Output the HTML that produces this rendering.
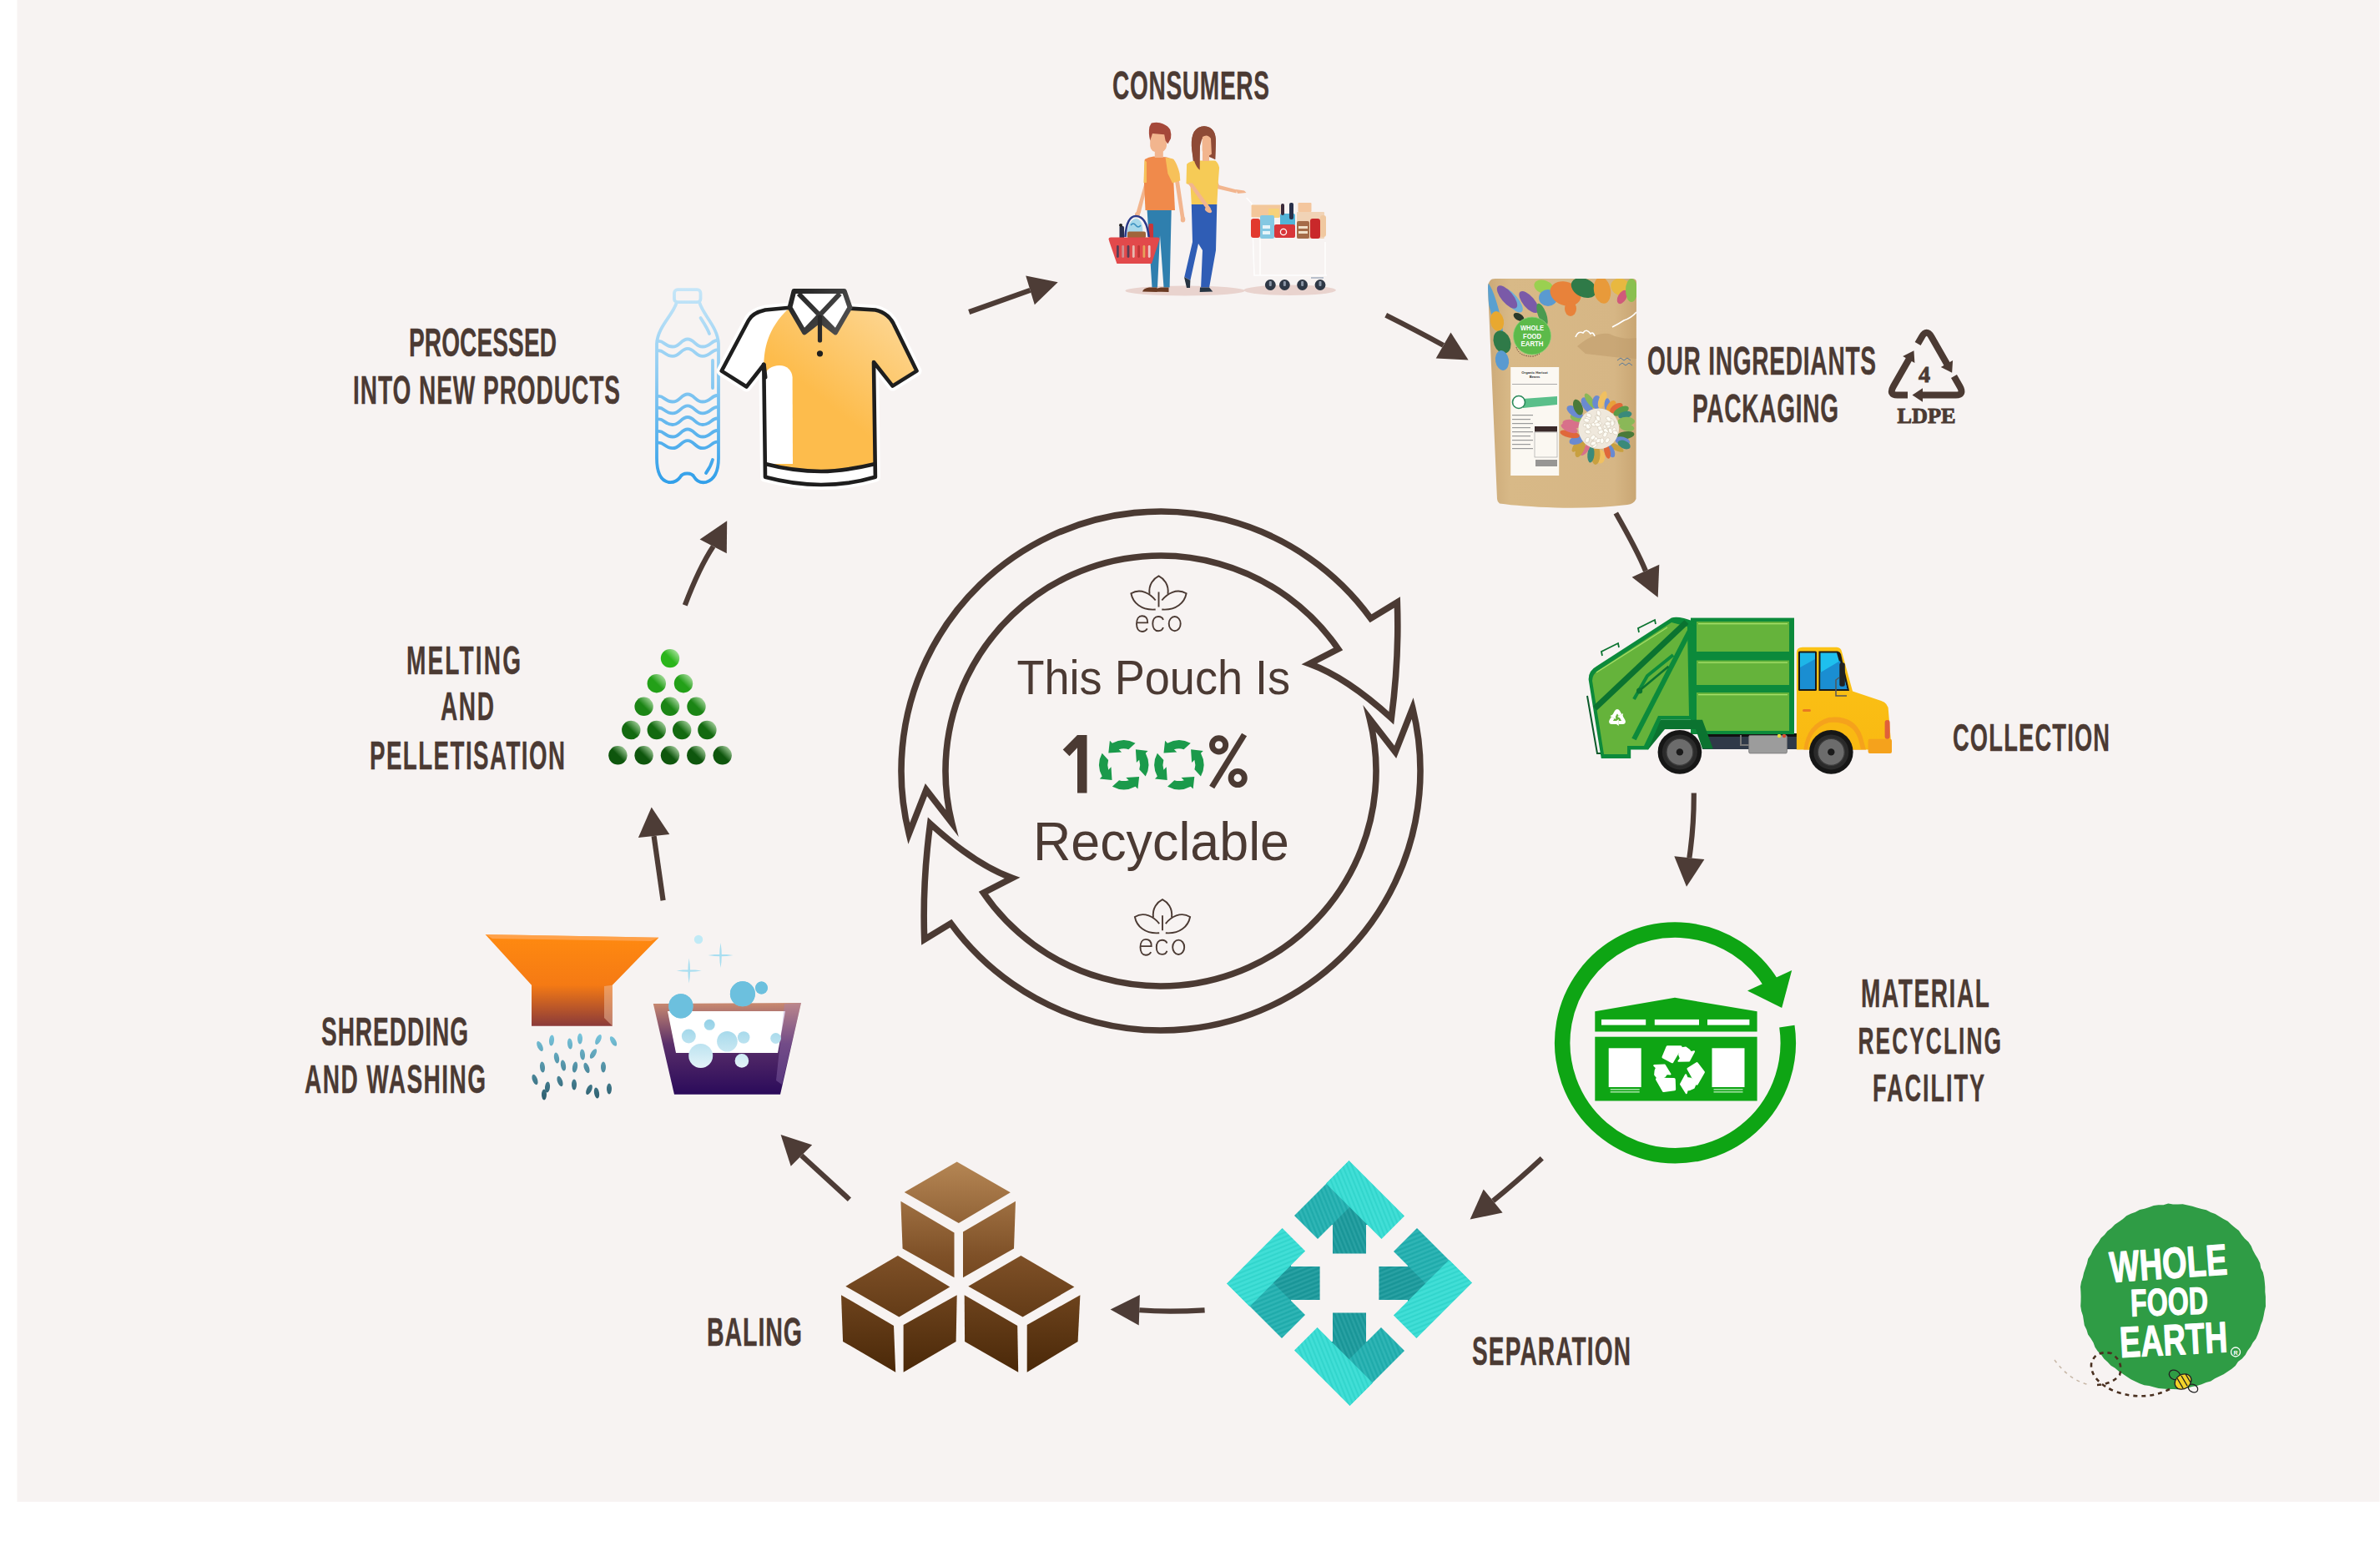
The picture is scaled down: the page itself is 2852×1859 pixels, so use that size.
<!DOCTYPE html>
<html><head><meta charset="utf-8"><title>Recycling</title>
<style>
html,body{margin:0;padding:0;background:#fff;overflow:hidden}
svg{display:block}
.lb{font-family:"Liberation Sans",sans-serif;font-weight:bold;fill:#4b3a33}
.rg{font-family:"Liberation Sans",sans-serif;fill:#4b3a33}
.bd{font-family:"Liberation Sans",sans-serif;font-weight:bold;fill:#4b3a33}
.sf{font-family:"Liberation Serif",serif;font-weight:bold;fill:#4b3a33}
.wl{font-family:"Liberation Sans",sans-serif;font-weight:bold;fill:#fff}
.lk{font-family:"Liberation Sans",sans-serif;font-weight:bold;fill:#333}
.wfe{font-family:"Liberation Sans",sans-serif;font-weight:bold;fill:#fff}
.eco{font-family:"Liberation Sans",sans-serif;fill:#4b3a33}
</style></head><body>
<svg width="2852" height="1859" viewBox="0 0 2852 1859">
<rect x="0" y="0" width="2852" height="1859" fill="#ffffff"/>
<rect x="20.5" y="0" width="2831" height="1800" fill="#f7f3f2"/>
<g transform="translate(1332.99,0) scale(0.585,1)"><text x="0" y="119.00" font-size="48.01" textLength="321.40" lengthAdjust="spacing" class="lb" stroke="#4b3a33" stroke-width="0.35" stroke-linejoin="round">CONSUMERS</text></g>
<g transform="translate(489.96,0) scale(0.585,1)"><text x="0" y="427.00" font-size="48.01" textLength="302.65" lengthAdjust="spacing" class="lb" stroke="#4b3a33" stroke-width="0.35" stroke-linejoin="round">PROCESSED</text></g>
<g transform="translate(422.98,0) scale(0.585,1)"><text x="0" y="484.00" font-size="48.01" textLength="547.06" lengthAdjust="spacing" class="lb" stroke="#4b3a33" stroke-width="0.35" stroke-linejoin="round">INTO NEW PRODUCTS</text></g>
<g transform="translate(486.94,0) scale(0.585,1)"><text x="0" y="808.00" font-size="48.01" textLength="234.41" lengthAdjust="spacing" class="lb" stroke="#4b3a33" stroke-width="0.35" stroke-linejoin="round">MELTING</text></g>
<g transform="translate(527.95,0) scale(0.585,1)"><text x="0" y="863.50" font-size="47.97" textLength="109.54" lengthAdjust="spacing" class="lb" stroke="#4b3a33" stroke-width="0.35" stroke-linejoin="round">AND</text></g>
<g transform="translate(442.96,0) scale(0.585,1)"><text x="0" y="921.88" font-size="47.40" textLength="400.13" lengthAdjust="spacing" class="lb" stroke="#4b3a33" stroke-width="0.35" stroke-linejoin="round">PELLETISATION</text></g>
<g transform="translate(1974.01,0) scale(0.585,1)"><text x="0" y="449.00" font-size="48.09" textLength="468.49" lengthAdjust="spacing" class="lb" stroke="#4b3a33" stroke-width="0.35" stroke-linejoin="round">OUR INGREDIANTS</text></g>
<g transform="translate(2027.95,0) scale(0.585,1)"><text x="0" y="506.00" font-size="48.01" textLength="299.32" lengthAdjust="spacing" class="lb" stroke="#4b3a33" stroke-width="0.35" stroke-linejoin="round">PACKAGING</text></g>
<g transform="translate(2339.98,0) scale(0.585,1)"><text x="0" y="900.00" font-size="46.64" textLength="321.46" lengthAdjust="spacing" class="lb" stroke="#4b3a33" stroke-width="0.35" stroke-linejoin="round">COLLECTION</text></g>
<g transform="translate(2229.95,0) scale(0.585,1)"><text x="0" y="1207.00" font-size="47.97" textLength="263.36" lengthAdjust="spacing" class="lb" stroke="#4b3a33" stroke-width="0.35" stroke-linejoin="round">MATERIAL</text></g>
<g transform="translate(2226.46,0) scale(0.585,1)"><text x="0" y="1263.00" font-size="45.06" textLength="293.34" lengthAdjust="spacing" class="lb" stroke="#4b3a33" stroke-width="0.35" stroke-linejoin="round">RECYCLING</text></g>
<g transform="translate(2243.95,0) scale(0.585,1)"><text x="0" y="1320.50" font-size="46.51" textLength="229.21" lengthAdjust="spacing" class="lb" stroke="#4b3a33" stroke-width="0.35" stroke-linejoin="round">FACILITY</text></g>
<g transform="translate(1763.98,0) scale(0.585,1)"><text x="0" y="1636.00" font-size="48.01" textLength="324.87" lengthAdjust="spacing" class="lb" stroke="#4b3a33" stroke-width="0.35" stroke-linejoin="round">SEPARATION</text></g>
<g transform="translate(846.92,0) scale(0.585,1)"><text x="0" y="1612.52" font-size="48.94" textLength="195.16" lengthAdjust="spacing" class="lb" stroke="#4b3a33" stroke-width="0.35" stroke-linejoin="round">BALING</text></g>
<g transform="translate(384.98,0) scale(0.585,1)"><text x="0" y="1253.00" font-size="48.01" textLength="300.96" lengthAdjust="spacing" class="lb" stroke="#4b3a33" stroke-width="0.35" stroke-linejoin="round">SHREDDING</text></g>
<g transform="translate(364.98,0) scale(0.585,1)"><text x="0" y="1310.00" font-size="48.01" textLength="371.05" lengthAdjust="spacing" class="lb" stroke="#4b3a33" stroke-width="0.35" stroke-linejoin="round">AND WASHING</text></g>
<path d="M1161.2,374 L1234.5,347.95000000000005" stroke="#4d3c36" stroke-width="6.2" fill="none"/>
<polygon points="1229.2,330.6 1267.7,338.3 1239.8,365.3" fill="#4d3c36"/>
<path d="M1660.7,377.8 Q1697,396 1729.6,413.9" stroke="#4d3c36" stroke-width="6.2" fill="none"/>
<polygon points="1738.5,398.4 1759.6,431.5 1720.7,429.4" fill="#4d3c36"/>
<path d="M1936.3,615 Q1962,660 1971.9499999999998,684.25" stroke="#4d3c36" stroke-width="6.2" fill="none"/>
<polygon points="1955.6,691.8 1986.7,716.1 1988.3,676.7" fill="#4d3c36"/>
<path d="M2029.8,950.5 Q2030,990 2024.35,1028.1999999999998" stroke="#4d3c36" stroke-width="6.2" fill="none"/>
<polygon points="2006.3,1026.3 2021,1062.8 2042.4,1030.1" fill="#4d3c36"/>
<path d="M1847.8,1388.3 Q1818,1416 1789.15,1439.45" stroke="#4d3c36" stroke-width="6.2" fill="none"/>
<polygon points="1777.7,1425.4 1761.6,1461.6 1800.6,1453.5" fill="#4d3c36"/>
<path d="M1443.6,1570.3 Q1400,1573 1365.3000000000002,1570.25" stroke="#4d3c36" stroke-width="6.2" fill="none"/>
<polygon points="1365.9,1552 1330.6,1569.4 1364.7,1588.5" fill="#4d3c36"/>
<path d="M1017.9,1437.7 L960.45,1385.05" stroke="#4d3c36" stroke-width="6.2" fill="none"/>
<polygon points="973.2,1372.3 935.6,1359.9 947.7,1397.8" fill="#4d3c36"/>
<path d="M794.6,1079.2 L783.5999999999999,1002.1" stroke="#4d3c36" stroke-width="6.2" fill="none"/>
<polygon points="764.9,1004.1 780.7,967.6 802.3,1000.1" fill="#4d3c36"/>
<path d="M820.8,725.3 Q838,680 854.7,654.85" stroke="#4d3c36" stroke-width="6.2" fill="none"/>
<polygon points="838.6,646.5 871.2,624.2 870.8,663.2" fill="#4d3c36"/>
<path d="M1089.24,999.24 A311,311 0 0 1 1642.60,741.20 L1674.31,721.92 Q1676.80,789.00 1667.34,860.71 Q1613.80,811.80 1569.03,795.60 L1603.62,777.87 A258,258 0 0 0 1140.66,986.42 L1109.91,946.62 Z" fill="none" stroke="#4b3a33" stroke-width="7.6" stroke-linejoin="miter" stroke-miterlimit="10"/>
<path d="M1089.24,999.24 A311,311 0 0 1 1642.60,741.20 L1674.31,721.92 Q1676.80,789.00 1667.34,860.71 Q1613.80,811.80 1569.03,795.60 L1603.62,777.87 A258,258 0 0 0 1140.66,986.42 L1109.91,946.62 Z" fill="none" stroke="#4b3a33" stroke-width="7.6" stroke-linejoin="miter" stroke-miterlimit="10" transform="rotate(180 1391 924)"/>
<text x="1218.4" y="831.9" font-size="57.3" textLength="327.8" lengthAdjust="spacingAndGlyphs" class="rg">This Pouch Is</text>
<text x="1238" y="1030.6" font-size="65.7" textLength="307" lengthAdjust="spacingAndGlyphs" class="rg">Recyclable</text>
<polygon points="1291,881 1302.5,881 1302.5,950.4 1291,950.4 1291,896.3 1281.5,906.2 1273.7,898.4" fill="#4b3a33"/><circle cx="1460.6" cy="892.9" r="8.1" fill="none" stroke="#4b3a33" stroke-width="6.9"/><circle cx="1483.2" cy="932.5" r="8.1" fill="none" stroke="#4b3a33" stroke-width="6.9"/><polygon points="1488.1,878.7 1494.1,882.3 1455.2,945.3 1449.2,941.7" fill="#4b3a33"/>
<path d="M13.85,-26.05 A29.5,29.5 0 0 0 -13.85,-26.05 L-16.8,-28.9 L-18.4,-14.2 L-2.6,-15.2 L-5.98,-18.46 A19.4,19.4 0 0 1 5.67,-18.55 Z" fill="#1b9a4b" transform="translate(1346.7,916.7) rotate(0)"/><path d="M13.85,-26.05 A29.5,29.5 0 0 0 -13.85,-26.05 L-16.8,-28.9 L-18.4,-14.2 L-2.6,-15.2 L-5.98,-18.46 A19.4,19.4 0 0 1 5.67,-18.55 Z" fill="#1b9a4b" transform="translate(1346.7,916.7) rotate(-90)"/><path d="M13.85,-26.05 A29.5,29.5 0 0 0 -13.85,-26.05 L-16.8,-28.9 L-18.4,-14.2 L-2.6,-15.2 L-5.98,-18.46 A19.4,19.4 0 0 1 5.67,-18.55 Z" fill="#1b9a4b" transform="translate(1346.7,916.7) rotate(-180)"/><path d="M13.85,-26.05 A29.5,29.5 0 0 0 -13.85,-26.05 L-16.8,-28.9 L-18.4,-14.2 L-2.6,-15.2 L-5.98,-18.46 A19.4,19.4 0 0 1 5.67,-18.55 Z" fill="#1b9a4b" transform="translate(1346.7,916.7) rotate(-270)"/>
<path d="M13.85,-26.05 A29.5,29.5 0 0 0 -13.85,-26.05 L-16.8,-28.9 L-18.4,-14.2 L-2.6,-15.2 L-5.98,-18.46 A19.4,19.4 0 0 1 5.67,-18.55 Z" fill="#1b9a4b" transform="translate(1412.9,916.7) rotate(0)"/><path d="M13.85,-26.05 A29.5,29.5 0 0 0 -13.85,-26.05 L-16.8,-28.9 L-18.4,-14.2 L-2.6,-15.2 L-5.98,-18.46 A19.4,19.4 0 0 1 5.67,-18.55 Z" fill="#1b9a4b" transform="translate(1412.9,916.7) rotate(-90)"/><path d="M13.85,-26.05 A29.5,29.5 0 0 0 -13.85,-26.05 L-16.8,-28.9 L-18.4,-14.2 L-2.6,-15.2 L-5.98,-18.46 A19.4,19.4 0 0 1 5.67,-18.55 Z" fill="#1b9a4b" transform="translate(1412.9,916.7) rotate(-180)"/><path d="M13.85,-26.05 A29.5,29.5 0 0 0 -13.85,-26.05 L-16.8,-28.9 L-18.4,-14.2 L-2.6,-15.2 L-5.98,-18.46 A19.4,19.4 0 0 1 5.67,-18.55 Z" fill="#1b9a4b" transform="translate(1412.9,916.7) rotate(-270)"/>
<g transform="translate(1388.5,690.4)" fill="none" stroke="#4b3a33" stroke-width="1.9"><path d="M-11,21.5 C-12.5,10 -6,3 0,0 C6,3 12.5,10 11,21.5"/><path d="M-3.8,29.1 C-10,21 -22,14 -33.1,20.9 C-31,32 -21,41.5 -3.8,40.1"/><path d="M3.8,29.1 C10,21 22,14 33.1,20.9 C31,32 21,41.5 3.8,40.1"/><path d="M0,19.1 L0,37.1"/><path d="M-26.5,56 L-13.3,56 C-13,50 -16,47.8 -20,47.8 C-24,47.8 -26.5,51.5 -26.5,57.2 C-26.5,63 -24,66.6 -20,66.6 C-16.5,66.6 -14.5,64.5 -13.8,63"/><path d="M6.0,52.5 C5.2,49.8 3.2,48.6 0,48.6 C-4,48.6 -6.6,52 -6.6,57.2 C-6.6,62.4 -4,65.8 0,65.8 C3.2,65.8 5.2,64.4 6.0,61.6" transform="translate(-0.6,0)"/><ellipse cx="19.2" cy="57.2" rx="7" ry="8.65"/></g>
<g transform="translate(1393,1078.1)" fill="none" stroke="#4b3a33" stroke-width="1.9"><path d="M-11,21.5 C-12.5,10 -6,3 0,0 C6,3 12.5,10 11,21.5"/><path d="M-3.8,29.1 C-10,21 -22,14 -33.1,20.9 C-31,32 -21,41.5 -3.8,40.1"/><path d="M3.8,29.1 C10,21 22,14 33.1,20.9 C31,32 21,41.5 3.8,40.1"/><path d="M0,19.1 L0,37.1"/><path d="M-26.5,56 L-13.3,56 C-13,50 -16,47.8 -20,47.8 C-24,47.8 -26.5,51.5 -26.5,57.2 C-26.5,63 -24,66.6 -20,66.6 C-16.5,66.6 -14.5,64.5 -13.8,63"/><path d="M6.0,52.5 C5.2,49.8 3.2,48.6 0,48.6 C-4,48.6 -6.6,52 -6.6,57.2 C-6.6,62.4 -4,65.8 0,65.8 C3.2,65.8 5.2,64.4 6.0,61.6" transform="translate(-0.6,0)"/><ellipse cx="19.2" cy="57.2" rx="7" ry="8.65"/></g>
<defs><linearGradient id="gBottle" x1="0" y1="345" x2="0" y2="582" gradientUnits="userSpaceOnUse">
<stop offset="0" stop-color="#c6e6f8"/><stop offset="0.45" stop-color="#8ccbf2"/><stop offset="1" stop-color="#2f9ee9"/></linearGradient></defs>
<g fill="none" stroke="url(#gBottle)" stroke-width="3.8" stroke-linecap="round" stroke-linejoin="round">
<rect x="808" y="347.2" width="31.5" height="15" rx="4"/>
<path d="M810.5,363.4 C806,378 788,392 787,412 L787,549 C787,566 792,576 801,578 C808,579 812,576 815,572 C818,566 829,566 832,572 C835,577 840,579 846,578 C856,575 861,565 861,549 L861,412 C860,392 843,378 838.5,363.4"/>
<path d="M839.5,381 C844,388 848,394 850,400"/>
<path d="M854,432 L854,465"/>
<path d="M854,551 C852,558 849,563 846,567"/>
<path d="M789,409 C795,408 797,415.5 806,415.5 C815,415.5 816,406.5 824,406.5 C832,406.5 833,415.5 842,415.5 C851,415.5 853,408 859,408"/><path d="M789,420.3 C795,419.3 797,426.8 806,426.8 C815,426.8 816,417.8 824,417.8 C832,417.8 833,426.8 842,426.8 C851,426.8 853,419.3 859,419.3"/><path d="M789,475 C795,474 797,481.5 806,481.5 C815,481.5 816,472.5 824,472.5 C832,472.5 833,481.5 842,481.5 C851,481.5 853,474 859,474"/><path d="M789,488.8 C795,487.8 797,495.3 806,495.3 C815,495.3 816,486.3 824,486.3 C832,486.3 833,495.3 842,495.3 C851,495.3 853,487.8 859,487.8"/><path d="M789,502.5 C795,501.5 797,509.0 806,509.0 C815,509.0 816,500.0 824,500.0 C832,500.0 833,509.0 842,509.0 C851,509.0 853,501.5 859,501.5"/><path d="M789,517 C795,516 797,523.5 806,523.5 C815,523.5 816,514.5 824,514.5 C832,514.5 833,523.5 842,523.5 C851,523.5 853,516 859,516"/><path d="M789,530.7 C795,529.7 797,537.2 806,537.2 C815,537.2 816,528.2 824,528.2 C832,528.2 833,537.2 842,537.2 C851,537.2 853,529.7 859,529.7"/></g>
<defs><linearGradient id="gShirt" x1="1085" y1="385" x2="1000" y2="490" gradientUnits="userSpaceOnUse">
<stop offset="0" stop-color="#fdd692"/><stop offset="1" stop-color="#fdbc4c"/></linearGradient>
<linearGradient id="gCollar" x1="950" y1="350" x2="1020" y2="400" gradientUnits="userSpaceOnUse"><stop offset="0" stop-color="#222"/><stop offset="1" stop-color="#555"/></linearGradient></defs><path d="M946,368.7 L917,371.5 C906,374 900,378 897,384 L864.7,444.6 L894.5,463.5 L915.3,437 L917,571.8 C940,578 962,581 983.9,581 C1006,581 1028,578 1048.9,571.8 L1047,434 L1069.6,462.6 L1098.5,444.6 L1072.3,391.3 C1068,381 1060,374 1048.9,371.5 L1018.2,369.6 Z" fill="#ffffff" stroke="#ffffff" stroke-width="12" stroke-linejoin="round"/><path d="M946,368.7 L917,371.5 C906,374 900,378 897,384 L864.7,444.6 L894.5,463.5 L915.3,437 L917,571.8 C940,578 962,581 983.9,581 C1006,581 1028,578 1048.9,571.8 L1047,434 L1069.6,462.6 L1098.5,444.6 L1072.3,391.3 C1068,381 1060,374 1048.9,371.5 L1018.2,369.6 Z" fill="url(#gShirt)"/><path d="M946,368.7 L917,371.5 C906,374 900,378 897,384 L864.7,444.6 L894.5,463.5 L915.3,437 C916,420 918,395 946,368.7 Z" fill="#ffffff"/><path d="M917,450 C917,443 925,438 934,438 C943,438 949,444 949.6,452 L950,556 L917,556 Z" fill="#ffffff"/><path d="M917,556 C940,562 962,564 983.9,564 C1006,564 1028,561 1048.9,556 L1048.9,571.8 C1028,578 1006,581 983.9,581 C962,581 940,578 917,571.8 Z" fill="#ffffff"/><path d="M946,368.7 L917,371.5 C906,374 900,378 897,384 L864.7,444.6 L894.5,463.5 L915.3,437 L917,571.8 C940,578 962,581 983.9,581 C1006,581 1028,578 1048.9,571.8 L1047,434 L1069.6,462.6 L1098.5,444.6 L1072.3,391.3 C1068,381 1060,374 1048.9,371.5 L1018.2,369.6 Z" fill="none" stroke="#1e1e1e" stroke-width="4.6" stroke-linejoin="round"/><path d="M917,556 C940,562 962,565 983.9,565 C1006,565 1028,561 1048.9,556" fill="none" stroke="#1e1e1e" stroke-width="4.6"/><path d="M951.4,349 L1011.8,349 L1018.5,368.5 L1001,398.5 L982.5,384 L964,398.5 L946.5,368.5 Z" fill="#ffffff" stroke="url(#gCollar)" stroke-width="5.8" stroke-linejoin="round"/><path d="M957,352 L1000,396 M1006.5,352 L965,396" fill="none" stroke="url(#gCollar)" stroke-width="5.8"/><path d="M982.5,380 L982.5,408" stroke="#2a2a2a" stroke-width="5.2" stroke-linecap="round"/><circle cx="982.5" cy="423.8" r="3.6" fill="#1e1e1e"/><path d="M915.3,437 L917,452" stroke="#1e1e1e" stroke-width="5" stroke-linecap="round"/>
<defs><linearGradient id="gPel0" x1="0" y1="1" x2="1" y2="0"><stop offset="0" stop-color="#2bb51b"/><stop offset="0.5" stop-color="#2bb51b"/><stop offset="1" stop-color="#cdeec4"/></linearGradient><linearGradient id="gPel1" x1="0" y1="1" x2="1" y2="0"><stop offset="0" stop-color="#23a018"/><stop offset="0.5" stop-color="#23a018"/><stop offset="1" stop-color="#cdeec4"/></linearGradient><linearGradient id="gPel2" x1="0" y1="1" x2="1" y2="0"><stop offset="0" stop-color="#1b8515"/><stop offset="0.5" stop-color="#1b8515"/><stop offset="1" stop-color="#cdeec4"/></linearGradient><linearGradient id="gPel3" x1="0" y1="1" x2="1" y2="0"><stop offset="0" stop-color="#136a10"/><stop offset="0.5" stop-color="#136a10"/><stop offset="1" stop-color="#cdeec4"/></linearGradient><linearGradient id="gPel4" x1="0" y1="1" x2="1" y2="0"><stop offset="0" stop-color="#0e560d"/><stop offset="0.5" stop-color="#0e560d"/><stop offset="1" stop-color="#cdeec4"/></linearGradient></defs><circle cx="803" cy="789.1" r="11.2" fill="url(#gPel0)"/><circle cx="786.8" cy="819.2" r="11.2" fill="url(#gPel1)"/><circle cx="819" cy="819.2" r="11.2" fill="url(#gPel1)"/><circle cx="771.6" cy="846.8" r="11.2" fill="url(#gPel2)"/><circle cx="803" cy="846.8" r="11.2" fill="url(#gPel2)"/><circle cx="834.5" cy="846.8" r="11.2" fill="url(#gPel2)"/><circle cx="756.3" cy="875" r="11.2" fill="url(#gPel3)"/><circle cx="786.8" cy="875" r="11.2" fill="url(#gPel3)"/><circle cx="817.2" cy="875" r="11.2" fill="url(#gPel3)"/><circle cx="847.4" cy="875" r="11.2" fill="url(#gPel3)"/><circle cx="740.4" cy="905.3" r="11.2" fill="url(#gPel4)"/><circle cx="771.6" cy="905.3" r="11.2" fill="url(#gPel4)"/><circle cx="803" cy="905.3" r="11.2" fill="url(#gPel4)"/><circle cx="834.3" cy="905.3" r="11.2" fill="url(#gPel4)"/><circle cx="865.7" cy="905.3" r="11.2" fill="url(#gPel4)"/>
<defs>
<linearGradient id="gFun" x1="0" y1="1120" x2="0" y2="1230" gradientUnits="userSpaceOnUse">
<stop offset="0" stop-color="#ff8a10"/><stop offset="0.55" stop-color="#f57a14"/><stop offset="1" stop-color="#8a3a3a"/></linearGradient>
<linearGradient id="gTub" x1="0" y1="1202" x2="0" y2="1312" gradientUnits="userSpaceOnUse">
<stop offset="0" stop-color="#c98a70"/><stop offset="0.45" stop-color="#5a2f6a"/><stop offset="1" stop-color="#2a0a5a"/></linearGradient>
<linearGradient id="gDrop" x1="0" y1="1237" x2="0" y2="1317" gradientUnits="userSpaceOnUse">
<stop offset="0" stop-color="#7ac8e0"/><stop offset="1" stop-color="#2f6070"/></linearGradient>
<linearGradient id="gBub" x1="0" y1="1180" x2="0" y2="1290" gradientUnits="userSpaceOnUse">
<stop offset="0" stop-color="#5ab8da"/><stop offset="1" stop-color="#f2fafc"/></linearGradient>
</defs><path d="M581.6,1120 L789.4,1123.8 L733.8,1180.7 L733.8,1229.7 L637,1229.7 L637,1180.7 Z" fill="url(#gFun)"/><path d="M581.6,1120 L789.4,1123.8 L780,1128 L590,1125 Z" fill="#ffb070" opacity="0.6"/><path d="M724,1182 L733.8,1180.7 L733.8,1229.7 L724,1220 Z" fill="#f0c0a0" opacity="0.5"/><ellipse cx="647" cy="1254" rx="3" ry="6.5" fill="url(#gDrop)" transform="rotate(-25 647 1254)"/><ellipse cx="661" cy="1247" rx="3" ry="6.5" fill="url(#gDrop)" transform="rotate(5 661 1247)"/><ellipse cx="683" cy="1251" rx="3" ry="6.5" fill="url(#gDrop)" transform="rotate(-5 683 1251)"/><ellipse cx="695" cy="1245" rx="3" ry="6.5" fill="url(#gDrop)" transform="rotate(0 695 1245)"/><ellipse cx="717" cy="1246" rx="3" ry="6.5" fill="url(#gDrop)" transform="rotate(25 717 1246)"/><ellipse cx="735" cy="1248" rx="3" ry="6.5" fill="url(#gDrop)" transform="rotate(-30 735 1248)"/><ellipse cx="667" cy="1268" rx="3" ry="6.5" fill="url(#gDrop)" transform="rotate(-10 667 1268)"/><ellipse cx="698" cy="1264" rx="3" ry="6.5" fill="url(#gDrop)" transform="rotate(-5 698 1264)"/><ellipse cx="711" cy="1263" rx="3" ry="6.5" fill="url(#gDrop)" transform="rotate(30 711 1263)"/><ellipse cx="650" cy="1279" rx="3" ry="6.5" fill="url(#gDrop)" transform="rotate(-5 650 1279)"/><ellipse cx="675" cy="1277" rx="3" ry="6.5" fill="url(#gDrop)" transform="rotate(-10 675 1277)"/><ellipse cx="689" cy="1279" rx="3" ry="6.5" fill="url(#gDrop)" transform="rotate(10 689 1279)"/><ellipse cx="703" cy="1280" rx="3" ry="6.5" fill="url(#gDrop)" transform="rotate(-20 703 1280)"/><ellipse cx="723" cy="1279" rx="3" ry="6.5" fill="url(#gDrop)" transform="rotate(0 723 1279)"/><ellipse cx="641" cy="1294" rx="3" ry="6.5" fill="url(#gDrop)" transform="rotate(-20 641 1294)"/><ellipse cx="656" cy="1303" rx="3" ry="6.5" fill="url(#gDrop)" transform="rotate(5 656 1303)"/><ellipse cx="671" cy="1296" rx="3" ry="6.5" fill="url(#gDrop)" transform="rotate(-20 671 1296)"/><ellipse cx="688" cy="1300" rx="3" ry="6.5" fill="url(#gDrop)" transform="rotate(0 688 1300)"/><ellipse cx="706" cy="1306" rx="3" ry="6.5" fill="url(#gDrop)" transform="rotate(25 706 1306)"/><ellipse cx="730" cy="1305" rx="3" ry="6.5" fill="url(#gDrop)" transform="rotate(0 730 1305)"/><ellipse cx="652" cy="1312" rx="3" ry="6.5" fill="url(#gDrop)" transform="rotate(0 652 1312)"/><ellipse cx="715" cy="1310" rx="3" ry="6.5" fill="url(#gDrop)" transform="rotate(-10 715 1310)"/><path d="M782.8,1203 L960,1202 L935,1311.8 L808,1311.8 Z" fill="url(#gTub)"/><path d="M800,1212 L941,1212 L932,1262 L810,1262 Z" fill="#ffffff"/><path d="M940,1203 L960,1202 L937,1300 L930,1295 Z" fill="#a080c0" opacity="0.35"/><circle cx="815.9" cy="1205.9" r="14.6" fill="url(#gBub)"/><circle cx="889.9" cy="1191.3" r="15" fill="url(#gBub)"/><circle cx="912.5" cy="1184" r="7.4" fill="url(#gBub)"/><circle cx="850.2" cy="1228.3" r="6.5" fill="url(#gBub)"/><circle cx="825.3" cy="1242" r="8.5" fill="url(#gBub)"/><circle cx="871.4" cy="1248.2" r="12.3" fill="url(#gBub)"/><circle cx="891.2" cy="1243.5" r="7.3" fill="url(#gBub)"/><circle cx="929.6" cy="1244.5" r="6.4" fill="url(#gBub)"/><circle cx="839.7" cy="1265.5" r="14.5" fill="url(#gBub)"/><circle cx="888.9" cy="1271.4" r="8.3" fill="url(#gBub)"/><circle cx="815.9" cy="1205.9" r="14.6" fill="#6cc0de"/><circle cx="889.9" cy="1191.3" r="15" fill="#6cc0de"/><circle cx="912.5" cy="1184" r="7.4" fill="#6cc0de"/><path d="M810.7,1163.5 Q825.7,1160.9 840.7,1163.5 Q825.7,1166.1 810.7,1163.5 Z M825.7,1148.5 Q828.3000000000001,1163.5 825.7,1178.5 Q823.1,1163.5 825.7,1148.5 Z" fill="#a8def0"/><path d="M848.5,1145 Q863.5,1142.4 878.5,1145 Q863.5,1147.6 848.5,1145 Z M863.5,1130 Q866.1,1145 863.5,1160 Q860.9,1145 863.5,1130 Z" fill="#a8def0"/><circle cx="837" cy="1126" r="5.2" fill="#c0eaf6"/>
<defs><linearGradient id="gCube" x1="0" y1="1392" x2="0" y2="1646" gradientUnits="userSpaceOnUse">
<stop offset="0" stop-color="#b58654"/><stop offset="0.45" stop-color="#7e5027"/><stop offset="1" stop-color="#4a2808"/></linearGradient></defs><g fill="url(#gCube)"><polygon points="1146.7,1392.6 1083.7,1428.9 1148.8,1466.1 1210.8,1429.3"/><polygon points="1079.4,1439.8 1143.5,1477.6 1143.5,1531.2 1081.6,1496.6"/><polygon points="1154,1476.6 1217,1439.8 1215,1496.6 1154,1531.2"/><polygon points="1075.9,1505 1013.3,1541.7 1077.4,1578.5 1138.3,1542.4"/><polygon points="1008,1552.2 1071,1589 1073.2,1644.7 1010.1,1607.9"/><polygon points="1082.6,1588 1146.7,1552.2 1145.6,1607.9 1082.6,1644.7"/><polygon points="1223.4,1505 1160.3,1541.7 1225.5,1578.5 1287.4,1542.4"/><polygon points="1155.7,1552.2 1219.2,1589 1220.2,1644.7 1156.1,1607.9"/><polygon points="1230.7,1588 1294.4,1552.2 1291.6,1607.9 1230.7,1644.7"/></g>
<defs><pattern id="pTex" width="5" height="5" patternUnits="userSpaceOnUse" patternTransform="rotate(-22)">
<line x1="1" y1="0" x2="1" y2="5" stroke="#ffffff" stroke-opacity="0.12" stroke-width="1.1"/><line x1="3.5" y1="0" x2="3.5" y2="5" stroke="#000000" stroke-opacity="0.05" stroke-width="1"/></pattern></defs><g transform="rotate(0 1617 1538)"><polygon points="1594,1468 1617,1444 1640,1468 1637,1468 1637,1502.6 1597,1502.6 1597,1468" fill="#1b9a9c"/><polygon points="1594,1468 1617,1444 1640,1468 1637,1468 1637,1502.6 1597,1502.6 1597,1468" fill="url(#pTex)"/><polygon points="1551,1457 1617,1391 1617,1447 1579,1485" fill="#22b0b0"/><polygon points="1551,1457 1617,1391 1617,1447 1579,1485" fill="url(#pTex)"/><polygon points="1616.5,1391 1683,1457.6 1655.5,1485.1 1589,1418.5" fill="#36dcd3"/><polygon points="1616.5,1391 1683,1457.6 1655.5,1485.1 1589,1418.5" fill="url(#pTex)"/></g><g transform="rotate(90 1617 1538)"><polygon points="1594,1468 1617,1444 1640,1468 1637,1468 1637,1502.6 1597,1502.6 1597,1468" fill="#1b9a9c"/><polygon points="1594,1468 1617,1444 1640,1468 1637,1468 1637,1502.6 1597,1502.6 1597,1468" fill="url(#pTex)"/><polygon points="1551,1457 1617,1391 1617,1447 1579,1485" fill="#22b0b0"/><polygon points="1551,1457 1617,1391 1617,1447 1579,1485" fill="url(#pTex)"/><polygon points="1616.5,1391 1683,1457.6 1655.5,1485.1 1589,1418.5" fill="#36dcd3"/><polygon points="1616.5,1391 1683,1457.6 1655.5,1485.1 1589,1418.5" fill="url(#pTex)"/></g><g transform="rotate(180 1617 1538)"><polygon points="1594,1468 1617,1444 1640,1468 1637,1468 1637,1502.6 1597,1502.6 1597,1468" fill="#1b9a9c"/><polygon points="1594,1468 1617,1444 1640,1468 1637,1468 1637,1502.6 1597,1502.6 1597,1468" fill="url(#pTex)"/><polygon points="1551,1457 1617,1391 1617,1447 1579,1485" fill="#22b0b0"/><polygon points="1551,1457 1617,1391 1617,1447 1579,1485" fill="url(#pTex)"/><polygon points="1616.5,1391 1683,1457.6 1655.5,1485.1 1589,1418.5" fill="#36dcd3"/><polygon points="1616.5,1391 1683,1457.6 1655.5,1485.1 1589,1418.5" fill="url(#pTex)"/></g><g transform="rotate(270 1617 1538)"><polygon points="1594,1468 1617,1444 1640,1468 1637,1468 1637,1502.6 1597,1502.6 1597,1468" fill="#1b9a9c"/><polygon points="1594,1468 1617,1444 1640,1468 1637,1468 1637,1502.6 1597,1502.6 1597,1468" fill="url(#pTex)"/><polygon points="1551,1457 1617,1391 1617,1447 1579,1485" fill="#22b0b0"/><polygon points="1551,1457 1617,1391 1617,1447 1579,1485" fill="url(#pTex)"/><polygon points="1616.5,1391 1683,1457.6 1655.5,1485.1 1589,1418.5" fill="#36dcd3"/><polygon points="1616.5,1391 1683,1457.6 1655.5,1485.1 1589,1418.5" fill="url(#pTex)"/></g>
<path d="M2141.35,1230.13 A135.3,135.3 0 1 1 2123.47,1180.22" fill="none" stroke="#0ea514" stroke-width="18.5"/><polygon points="2147.2,1162.9 2094,1187.5 2135.2,1208" fill="#0ea514"/><polygon points="1911.3,1212.2 2007,1195.7 2105.6,1212.2 2105.6,1236.4 1911.3,1236.4" fill="#0ea514"/><rect x="1919" y="1221.9" width="53.2" height="6.7" fill="#fff"/><rect x="1982.8" y="1221.9" width="53.2" height="6.7" fill="#fff"/><rect x="2046" y="1221.9" width="50.4" height="6.7" fill="#fff"/><rect x="1911.3" y="1242.7" width="194.3" height="76.8" fill="#0ea514"/><rect x="1927.7" y="1256.3" width="39" height="46.7" fill="#fff"/><rect x="1929.7" y="1305" width="35" height="1.6" fill="#9fe09f"/><rect x="1929.7" y="1308" width="35" height="1.6" fill="#9fe09f"/><rect x="2051.5" y="1256.3" width="39" height="46.7" fill="#fff"/><rect x="2053.5" y="1305" width="35" height="1.6" fill="#9fe09f"/><rect x="2053.5" y="1308" width="35" height="1.6" fill="#9fe09f"/><g transform="translate(2011,1282.5) rotate(0)"><polygon points="-12.8,-27.4 3.0,-27.4 -7.3,-10.0 -17.7,-15.5" fill="#ffffff" stroke="#ffffff" stroke-width="3.5" stroke-linejoin="round"/><polygon points="2.4,-26.0 9.1,-26.9 13.2,-24.0 15.3,-21.3 19.1,-22.3 13.2,-11.1 0.4,-10.7 2.9,-14.0 1.2,-18.2" fill="#ffffff" stroke="#ffffff" stroke-width="2" stroke-linejoin="round"/></g><g transform="translate(2011,1282.5) rotate(120)"><polygon points="-12.8,-27.4 3.0,-27.4 -7.3,-10.0 -17.7,-15.5" fill="#ffffff" stroke="#ffffff" stroke-width="3.5" stroke-linejoin="round"/><polygon points="2.4,-26.0 9.1,-26.9 13.2,-24.0 15.3,-21.3 19.1,-22.3 13.2,-11.1 0.4,-10.7 2.9,-14.0 1.2,-18.2" fill="#ffffff" stroke="#ffffff" stroke-width="2" stroke-linejoin="round"/></g><g transform="translate(2011,1282.5) rotate(240)"><polygon points="-12.8,-27.4 3.0,-27.4 -7.3,-10.0 -17.7,-15.5" fill="#ffffff" stroke="#ffffff" stroke-width="3.5" stroke-linejoin="round"/><polygon points="2.4,-26.0 9.1,-26.9 13.2,-24.0 15.3,-21.3 19.1,-22.3 13.2,-11.1 0.4,-10.7 2.9,-14.0 1.2,-18.2" fill="#ffffff" stroke="#ffffff" stroke-width="2" stroke-linejoin="round"/></g>
<g fill="none" stroke="#4b3a33" stroke-width="8"><path d="M2298.13,412.00 L2302.76,403.90 Q2308.70,393.50 2314.63,403.90 L2334.07,438.00"/><path d="M2341.47,451.00 L2348.37,463.10 Q2354.30,473.50 2343.62,473.50 L2303.00,473.50"/><path d="M2286.00,473.50 L2273.68,473.50 Q2263.00,473.50 2268.94,463.10 L2288.42,429.00"/></g><polygon points="2294.40,435.07 2293.48,420.15 2280.16,426.93" fill="#4b3a33"/><polygon points="2325.80,440.06 2339.12,446.86 2340.05,431.94" fill="#4b3a33"/><polygon points="2304.00,465.30 2291.50,473.50 2304.00,481.70" fill="#4b3a33"/><text x="2299" y="457.5" font-size="28" class="sf" stroke="#4b3a33" stroke-width="0.9">4</text><text x="2273.5" y="506.5" font-size="26" textLength="70" lengthAdjust="spacingAndGlyphs" class="sf" stroke="#4b3a33" stroke-width="0.9">LDPE</text>
<defs>
<linearGradient id="gCab" x1="0" y1="775" x2="0" y2="903" gradientUnits="userSpaceOnUse"><stop offset="0" stop-color="#fbc316"/><stop offset="1" stop-color="#f9b912"/></linearGradient>
</defs><rect x="2040" y="879" width="115" height="19" fill="#2f3948"/><rect x="2040" y="879" width="115" height="4" fill="#111"/><path d="M2086,881 L2086,893 L2096,893" fill="none" stroke="#777" stroke-width="2"/><rect x="2095.7" y="881.4" width="45.7" height="21.5" rx="1.5" fill="#9c9c9c" stroke="#777" stroke-width="0.8"/><circle cx="2132" cy="882" r="2.2" fill="#e8e040"/><circle cx="2138" cy="882" r="2.2" fill="#d84a30"/><rect x="2026" y="740.6" width="124" height="139.4" fill="#0c8a3b"/><rect x="2033" y="745" width="111" height="36" fill="#65b33b"/><rect x="2035" y="747" width="107" height="1.3" fill="#a6e06a"/><rect x="2033" y="791.5" width="111" height="29.5" fill="#65b33b"/><rect x="2035" y="793.5" width="107" height="1.3" fill="#a6e06a"/><rect x="2033" y="830" width="111" height="46" fill="#65b33b"/><rect x="2035" y="832" width="107" height="1.3" fill="#a6e06a"/><path d="M1962,886 L1990,862.7 L2040,862.7 L2052.8,897.5 L2040,897.5 L2032,874 L1995,874 L1975,898.6 Z" fill="#0b7330"/><path d="M1903.7,815 Q1903,804 1914,798 L2003,740.5 Q2012,738 2030,745 L2030,862.7 L1990,862.7 L1975,898.6 L1954.2,898.6 L1954.2,909 L1918.8,909 Z" fill="#0c8a3b"/><path d="M1908,816 Q1908,808 1916,803 L2003,746 L2022,751 L2024,858 L1987,858 L1970,894 L1950,894 L1950,904 L1922,904 Z" fill="#65b33b"/><path d="M1913,806 L1998,752" stroke="#a6e06a" stroke-width="1.2"/><path d="M1911.2,849 L2021,745.5" stroke="#0b7330" stroke-width="7"/><path d="M1958,886 L2028.5,749" stroke="#0c8a3b" stroke-width="6"/><path d="M1958,838 L1974,810 L2005,785" fill="none" stroke="#0c8a3b" stroke-width="4"/><path d="M1964.6,827.8 L1999.4,798.8" stroke="#0b7330" stroke-width="2.6"/><circle cx="1964.6" cy="828" r="3.6" fill="#0b7330"/><path d="M1920,786 L1919,781 L1939,771 L1940,776 M1964,758 L1963,753 L1983,743 L1984,748" fill="none" stroke="#0b7330" stroke-width="1.8"/><path d="M1902,834 L1914,903 L1918,903" fill="none" stroke="#0b5a2a" stroke-width="2"/><path d="M1933.84,858.20 L1936.79,853.10 Q1938.00,851.00 1939.21,853.10 L1941.46,857.00" fill="none" stroke="#ffffff" stroke-width="4.2"/><polygon points="1938.01,859.00 1944.19,861.73 1944.92,855.00" fill="#ffffff"/><path d="M1942.50,858.80 L1945.45,863.90 Q1946.66,866.00 1944.24,866.00 L1939.73,866.00" fill="none" stroke="#ffffff" stroke-width="4.2"/><polygon points="1939.73,862.01 1934.27,866.00 1939.73,869.99" fill="#ffffff"/><path d="M1937.65,866.00 L1931.76,866.00 Q1929.34,866.00 1930.55,863.90 L1932.80,860.00" fill="none" stroke="#ffffff" stroke-width="4.2"/><polygon points="1936.26,862.00 1935.53,855.27 1929.35,858.00" fill="#ffffff"/><path d="M2152.9,782 Q2153,775.7 2160,775.7 L2201,775.7 Q2206,776 2207,781 L2220,828.6 L2254.3,840 Q2262.9,843 2262.9,851.4 L2265.7,885.7 L2265.7,898.6 L2152.9,898.6 Z" fill="url(#gCab)"/><rect x="2155" y="780.5" width="22" height="47.5" rx="1.5" fill="#1a1a1a"/><rect x="2157" y="782.5" width="18" height="43.5" fill="#1eb6e8"/><path d="M2157,800 L2175,790 L2175,826 L2157,826 Z" fill="#1a8ed2"/><path d="M2179.5,780.5 L2202,780.5 Q2205,781 2206,784 L2216,828 L2179.5,828 Z" fill="#1a1a1a"/><path d="M2181.5,782.5 L2201,782.5 L2213.5,826 L2181.5,826 Z" fill="#1ec0ee"/><path d="M2181.5,806 L2205,792 L2213.5,826 L2181.5,826 Z" fill="#1a8ed2"/><rect x="2204.3" y="794.3" width="6.5" height="28.5" rx="2.5" fill="#222"/><path d="M2204,812 L2200,815 L2200,834 L2213,834" fill="none" stroke="#555" stroke-width="1.5"/><path d="M2161.4,898.6 Q2165,868 2191,860 Q2222,856 2231.4,882 L2236,898.6 Z" fill="#f5a21c"/><path d="M2166,898 Q2170,872 2192,866 Q2220,864 2227,886 L2230,898 Z" fill="#f9b912"/><rect x="2160" y="850" width="10" height="3" rx="1.5" fill="#e87a20"/><rect x="2238.6" y="885.7" width="28.4" height="17.2" rx="2" fill="#f5a21c"/><rect x="2258.6" y="862.9" width="6" height="22.8" rx="3" fill="#e0603a"/><circle cx="2012.9" cy="901.4" r="26.3" fill="#161616"/><circle cx="2012.9" cy="901.4" r="21" fill="#2a2a2a"/><circle cx="2012.9" cy="901.4" r="16" fill="#6c6c6c" stroke="#3a3a3a" stroke-width="1.4"/><circle cx="2012.9" cy="901.4" r="4.2" fill="#1a1a1a"/><circle cx="2194.3" cy="901.4" r="26.3" fill="#161616"/><circle cx="2194.3" cy="901.4" r="21" fill="#2a2a2a"/><circle cx="2194.3" cy="901.4" r="16" fill="#6c6c6c" stroke="#3a3a3a" stroke-width="1.4"/><circle cx="2194.3" cy="901.4" r="4.2" fill="#1a1a1a"/>
<ellipse cx="1420" cy="348.5" rx="71.6" ry="5.9" fill="#e9d3ce"/><ellipse cx="1545.6" cy="347.8" rx="55.3" ry="6.2" fill="#e9d3ce"/><path d="M1372,218 L1375,221 L1366.5,256 L1361.5,255 Z" fill="#f2b58e"/><circle cx="1363" cy="257" r="3" fill="#f2b58e"/><path d="M1408,217 L1413,217 L1419.5,261 L1415,262 Z" fill="#f2b58e"/><ellipse cx="1417.5" cy="263" rx="2.8" ry="3.5" fill="#f2b58e"/><path d="M1374.6,252 L1403.7,252 L1401.6,344.5 L1394.5,344.5 L1390,282 L1387,344.5 L1380.5,344.5 Z" fill="#2f7fae"/><path d="M1369,349.5 Q1370,345.5 1377,344.5 L1386.5,344.5 L1386.5,350 Z M1383,349.5 Q1384,345.5 1391,344.5 L1400.5,344.5 L1400.5,350 Z" fill="#6a3a22"/><path d="M1371.8,191 Q1376,188 1382.4,187.5 L1396.6,188.2 Q1402,189 1405.1,192.5 L1408,252 L1372.5,252 L1371,220 Z" fill="#f08a4b"/><path d="M1371.5,192 L1374,194 L1374,219 L1370.4,219 Z" fill="#f7c15a"/><path d="M1396.6,189 Q1404,189.5 1406.5,191 Q1411,197 1413.6,208 L1414.3,216.6 L1405,219.4 L1399.4,208 Z" fill="#f7c15a"/><rect x="1383.8" y="178" width="10" height="11" fill="#f2b58e"/><path d="M1378.2,160 L1398,160 L1398,175 Q1397,182.6 1388,182.6 Q1379,182.6 1378.2,175 Z" fill="#f2b58e"/><path d="M1377.4,152 L1379.8,147.5 Q1388,145.8 1393.8,148.5 Q1400,151 1402.3,155.6 Q1404,161 1403,166 L1399.4,172.6 L1396.6,168.4 L1395.2,161.3 L1381,159.9 L1378.2,168.4 Q1376,160 1377.4,152 Z" fill="#a5483a"/><path d="M1350,284 Q1352,262 1362,262 Q1371,264 1369,284 Z" fill="#a8d8ea"/><path d="M1355,270 q3,-4 6,0 q3,4 6,0" fill="none" stroke="#3a90c0" stroke-width="1.5"/><rect x="1341.5" y="271" width="5.5" height="15" rx="1.5" fill="#2a3050"/><circle cx="1343" cy="270" r="2" fill="#222"/><rect x="1351" y="277.5" width="22" height="8" rx="2" fill="#a0653a"/><rect x="1376.5" y="268" width="5.5" height="18" rx="1.5" fill="#c8363a"/><path d="M1348.4,284 Q1350,259 1361.1,259 Q1374,259 1376.7,284" fill="none" stroke="#2a3a8a" stroke-width="2.6"/><path d="M1328.5,286.5 Q1328.5,284.5 1331,284.5 L1387,284.5 Q1389.5,284.5 1389.5,286.5 L1388.5,290 L1380,316 L1338.4,316 L1329.5,290 Z" fill="#e2494b"/><rect x="1338.0" y="294" width="2.8" height="15" rx="1.4" fill="#2a3a5a" opacity="0.75"/><rect x="1344.3" y="294" width="2.8" height="15" rx="1.4" fill="#c8a8a8" opacity="0.75"/><rect x="1350.6" y="294" width="2.8" height="15" rx="1.4" fill="#2a3a5a" opacity="0.75"/><rect x="1356.9" y="294" width="2.8" height="15" rx="1.4" fill="#e8e0d0" opacity="0.75"/><rect x="1363.2" y="294" width="2.8" height="15" rx="1.4" fill="#b03030" opacity="0.75"/><rect x="1369.5" y="294" width="2.8" height="15" rx="1.4" fill="#e8c060" opacity="0.75"/><rect x="1375.8" y="294" width="2.8" height="15" rx="1.4" fill="#f0f0f0" opacity="0.75"/><path d="M1427.8,175 Q1427,152 1443,151.3 Q1458,152 1456.9,172 L1456.2,191 L1449,188 L1447,170 L1441,166 L1436,172 L1437.7,203.8 L1430,195 Z" fill="#8e4a36"/><path d="M1423.5,219.4 L1429,219.4 L1451,250 L1449,255 Z" fill="#f2b58e"/><path d="M1458,215 L1461,222 L1482,227.5 L1481.5,231.5 L1458,226 Z" fill="#f2b58e"/><path d="M1481,227 L1491,228.5 L1493.5,231 L1483,232 Z" fill="#f2b58e"/><path d="M1427.8,245 L1458.3,245 L1457,300 L1449.1,344.5 L1439.1,344.5 L1441,300 L1436,292 L1426.4,336 L1419.3,332 L1429,290 Z" fill="#2f5db5"/><path d="M1419,332 L1426.4,336 L1426,345 L1422,345 Z" fill="#263442"/><path d="M1438,344.5 L1449,344.5 L1453.3,349.5 L1437.7,350 Z" fill="#263442"/><path d="M1422.1,196.7 Q1426,193 1433.5,192.5 L1456.2,192.5 Q1460,195 1461.1,201 L1459.7,219.4 L1458.3,245 L1427.8,245 L1426.5,222 L1421.5,220 Z" fill="#f6cb56"/><path d="M1423.5,219.4 L1429,219.4 L1451,250 L1449,255 Z" fill="#f2b58e"/><ellipse cx="1448" cy="252" rx="4.5" ry="2.5" fill="#f2b58e" transform="rotate(30 1448 252)"/><rect x="1441" y="183" width="8" height="10" fill="#f2b58e"/><path d="M1440.6,162 L1454.8,162 L1454.8,180 Q1452,186.8 1447,186.8 Q1441,186 1440.6,180 Z" fill="#f2b58e"/><path d="M1428,176 Q1427,152 1443,151.3 Q1457,152 1456.9,170 L1456.2,191 Q1453,190 1452,186 L1451,166 Q1447,160 1441,164 L1438,175 L1437.7,203.8 Q1430,198 1428,176 Z" fill="#8e4a36"/><g stroke="#ffffff" stroke-width="1.6" fill="none" opacity="0.9"><path d="M1493.6,237 L1500,244 L1503,330 L1590,330"/><path d="M1588,290 L1588,330 M1510,286 L1510,330"/></g><rect x="1499.5" y="245.5" width="35" height="15" rx="1" fill="#f3c79a"/><rect x="1520" y="250" width="13" height="11" rx="1" fill="#f6d27a"/><rect x="1555.5" y="243" width="16" height="11" rx="1" fill="#f4c69e"/><rect x="1554" y="254" width="33" height="32" rx="1" fill="#f1d3b6"/><rect x="1499" y="262" width="11" height="23" rx="3" fill="#e2392e"/><rect x="1510" y="258" width="17" height="28" rx="2" fill="#84c8e2"/><rect x="1534" y="256" width="18" height="15" rx="2" fill="#52b4d8"/><rect x="1527" y="269" width="25" height="16" rx="2" fill="#d8363a"/><rect x="1535" y="244" width="4" height="14" rx="2" fill="#3a2a3a"/><rect x="1545" y="243" width="5" height="20" rx="2" fill="#28304a"/><rect x="1554" y="265" width="15" height="21" rx="2" fill="#a56c48"/><rect x="1570" y="262" width="12" height="24" rx="3" fill="#c9282a"/><rect x="1582" y="258" width="7" height="26" rx="3" fill="#f0c8a0"/><rect x="1513" y="270" width="9" height="4" fill="#ffffff" opacity="0.8"/><rect x="1513" y="277" width="9" height="4" fill="#ffffff" opacity="0.8"/><circle cx="1538" cy="278" r="3.6" fill="none" stroke="#fff" stroke-width="1.3"/><rect x="1556" y="271" width="11" height="3" fill="#f0e0c8"/><rect x="1556" y="277" width="11" height="3" fill="#f0e0c8"/><circle cx="1522.3" cy="341.5" r="6.4" fill="#2e3846"/><rect x="1520.8" y="337" width="3" height="6" rx="1" fill="#8a95a5"/><circle cx="1539.4" cy="341.5" r="6.4" fill="#2e3846"/><rect x="1537.9" y="337" width="3" height="6" rx="1" fill="#8a95a5"/><circle cx="1560.6" cy="341.5" r="6.4" fill="#2e3846"/><rect x="1559.1" y="337" width="3" height="6" rx="1" fill="#8a95a5"/><circle cx="1582" cy="341.5" r="6.4" fill="#2e3846"/><rect x="1580.5" y="337" width="3" height="6" rx="1" fill="#8a95a5"/><path d="M1571,333 L1586,333" stroke="#a8b2c0" stroke-width="1.6"/>
<defs><linearGradient id="gKraft" x1="1783" y1="0" x2="1961" y2="0" gradientUnits="userSpaceOnUse">
<stop offset="0" stop-color="#cba978"/><stop offset="0.15" stop-color="#d8b987"/><stop offset="0.85" stop-color="#d6b685"/><stop offset="1" stop-color="#c9a673"/></linearGradient>
<clipPath id="cBag"><path d="M1786,336 Q1787,334 1792,334 L1957,334 Q1961,334.5 1961,338 L1960.5,598 Q1958,604 1950,605 Q1905,610 1864,608.5 Q1822,607 1797,603.5 Q1794,601 1794,598 L1783,345 Q1783,339 1786,336 Z"/></clipPath></defs><path d="M1786,336 Q1787,334 1792,334 L1957,334 Q1961,334.5 1961,338 L1960.5,598 Q1958,604 1950,605 Q1905,610 1864,608.5 Q1822,607 1797,603.5 Q1794,601 1794,598 L1783,345 Q1783,339 1786,336 Z" fill="url(#gKraft)"/><g clip-path="url(#cBag)"><path d="M1890,415 Q1910,398 1928,400 Q1945,408 1961,405 L1961,430 Q1930,428 1900,424 Z" fill="#bf9d6c" opacity="0.6"/><path d="M1888,404 Q1891,396 1897,399 Q1901,393 1906,400 Q1909,397 1911,403" fill="none" stroke="#fff" stroke-width="1.6"/><path d="M1932,392 Q1940,388 1946,384 Q1955,381 1961,374" fill="none" stroke="#fff" stroke-width="1.6"/><path d="M1938,432 l4,-3 l4,3 l4,-3 l4,3 M1940,438 l4,-3 l4,3 l4,-3 l4,3" fill="none" stroke="#5a7a9a" stroke-width="1"/><ellipse cx="1791" cy="372" rx="5" ry="34" fill="#5aa0d0" transform="rotate(-15 1791 372)"/><ellipse cx="1812" cy="360" rx="18" ry="7" fill="#6fb0d8" transform="rotate(50 1812 360)"/><ellipse cx="1806" cy="356" rx="7" ry="17" fill="#7a5aa8" transform="rotate(-40 1806 356)"/><ellipse cx="1832" cy="362" rx="7" ry="16" fill="#7a5aa8" transform="rotate(-40 1832 362)"/><ellipse cx="1850" cy="344" rx="12" ry="8" fill="#9ad050" transform="rotate(20 1850 344)"/><ellipse cx="1855" cy="357" rx="11" ry="10" fill="#5a9ad0" transform="rotate(0 1855 357)"/><ellipse cx="1848" cy="377" rx="5" ry="14" fill="#4a9a50" transform="rotate(-20 1848 377)"/><ellipse cx="1876" cy="352" rx="19" ry="14" fill="#e8823a" transform="rotate(20 1876 352)"/><ellipse cx="1882" cy="370" rx="7" ry="9" fill="#e8823a" transform="rotate(0 1882 370)"/><ellipse cx="1898" cy="345" rx="16" ry="11" fill="#2f7a48" transform="rotate(25 1898 345)"/><ellipse cx="1920" cy="348" rx="10" ry="16" fill="#e89a3a" transform="rotate(-10 1920 348)"/><ellipse cx="1942" cy="344" rx="12" ry="10" fill="#e8b840" transform="rotate(20 1942 344)"/><ellipse cx="1944" cy="356" rx="5" ry="9" fill="#d05a7a" transform="rotate(30 1944 356)"/><ellipse cx="1955" cy="348" rx="7" ry="14" fill="#8ac050" transform="rotate(0 1955 348)"/><ellipse cx="1794" cy="385" rx="8" ry="12" fill="#e8a830" transform="rotate(-10 1794 385)"/><ellipse cx="1800" cy="410" rx="10" ry="14" fill="#2f7a48" transform="rotate(-20 1800 410)"/><ellipse cx="1800" cy="432" rx="8" ry="12" fill="#5a9ad0" transform="rotate(-10 1800 432)"/><ellipse cx="1820" cy="380" rx="7" ry="4" fill="#2a3a2a" transform="rotate(30 1820 380)"/></g><circle cx="1836" cy="402.6" r="22.5" fill="#5cba4a" stroke="#8cd07a" stroke-width="0.8"/><text x="1836" y="396" font-size="9.5" text-anchor="middle" textLength="28" lengthAdjust="spacingAndGlyphs" class="wl">WHOLE</text><text x="1836" y="405.5" font-size="9.5" text-anchor="middle" textLength="22" lengthAdjust="spacingAndGlyphs" class="wl">FOOD</text><text x="1836" y="415" font-size="9.5" text-anchor="middle" textLength="27" lengthAdjust="spacingAndGlyphs" class="wl">EARTH</text><path d="M1817,416 Q1820,428 1838,427 L1845,424" fill="none" stroke="#5a4030" stroke-width="0.9" stroke-dasharray="1.5 1.2"/><rect x="1810.2" y="440" width="58" height="130" fill="#fbf8f2"/><text x="1839" y="447.5" font-size="4.2" text-anchor="middle" class="lk">Organic Haricot</text><text x="1839" y="453" font-size="4.2" text-anchor="middle" class="lk">Beans</text><rect x="1812" y="460" width="54" height="1" fill="#aaa"/><path d="M1825,478 L1866,475 L1866,485 L1825,489 Z" fill="#5abf8a"/><circle cx="1820" cy="482" r="7.5" fill="#fff" stroke="#2a8a5a" stroke-width="1.6"/><rect x="1839" y="511" width="27" height="6.5" fill="#3a2a2a"/><rect x="1812" y="497" width="25" height="1.2" fill="#9a9a9a"/><rect x="1812" y="502" width="22" height="1.2" fill="#9a9a9a"/><rect x="1812" y="507" width="25" height="1.2" fill="#9a9a9a"/><rect x="1812" y="512" width="22" height="1.2" fill="#9a9a9a"/><rect x="1812" y="517" width="25" height="1.2" fill="#9a9a9a"/><rect x="1812" y="522" width="22" height="1.2" fill="#9a9a9a"/><rect x="1812" y="527" width="25" height="1.2" fill="#9a9a9a"/><rect x="1812" y="532" width="22" height="1.2" fill="#9a9a9a"/><rect x="1812" y="537" width="25" height="1.2" fill="#9a9a9a"/><rect x="1839" y="518" width="27" height="30" fill="none" stroke="#9a9a9a" stroke-width="0.6"/><rect x="1840" y="551" width="26" height="8" fill="#555" opacity="0.6"/><ellipse cx="1949.6" cy="512.2" rx="4.5" ry="8.9" fill="#8ab858" transform="rotate(102 1949.6 512.2)"/><ellipse cx="1947.4" cy="521.9" rx="4.6" ry="11.2" fill="#4a7a3a" transform="rotate(80 1947.4 521.9)"/><ellipse cx="1944.2" cy="528.6" rx="5.1" ry="8.9" fill="#6a8ad0" transform="rotate(104 1944.2 528.6)"/><ellipse cx="1946.2" cy="533.0" rx="4.7" ry="8.1" fill="#3a8a7a" transform="rotate(114 1946.2 533.0)"/><ellipse cx="1935.8" cy="535.9" rx="3.5" ry="11.0" fill="#c8a040" transform="rotate(117 1935.8 535.9)"/><ellipse cx="1929.3" cy="539.6" rx="4.6" ry="9.4" fill="#6a8ad0" transform="rotate(152 1929.3 539.6)"/><ellipse cx="1926.0" cy="541.2" rx="3.6" ry="8.8" fill="#e0683a" transform="rotate(168 1926.0 541.2)"/><ellipse cx="1917.9" cy="547.3" rx="5.5" ry="8.3" fill="#f0c060" transform="rotate(179 1917.9 547.3)"/><ellipse cx="1912.2" cy="545.3" rx="5.3" ry="11.6" fill="#c8a040" transform="rotate(182 1912.2 545.3)"/><ellipse cx="1906.4" cy="544.6" rx="4.1" ry="9.9" fill="#3a8a7a" transform="rotate(185 1906.4 544.6)"/><ellipse cx="1899.5" cy="539.1" rx="3.5" ry="8.3" fill="#d8708a" transform="rotate(218 1899.5 539.1)"/><ellipse cx="1893.6" cy="538.3" rx="4.6" ry="10.5" fill="#c8a040" transform="rotate(206 1893.6 538.3)"/><ellipse cx="1891.2" cy="533.4" rx="4.2" ry="10.4" fill="#c8a040" transform="rotate(222 1891.2 533.4)"/><ellipse cx="1889.6" cy="527.3" rx="5.1" ry="9.5" fill="#6a8ad0" transform="rotate(252 1889.6 527.3)"/><ellipse cx="1881.1" cy="520.3" rx="4.3" ry="12.0" fill="#e0683a" transform="rotate(282 1881.1 520.3)"/><ellipse cx="1880.6" cy="513.4" rx="4.5" ry="10.7" fill="#d8708a" transform="rotate(293 1880.6 513.4)"/><ellipse cx="1883.4" cy="508.1" rx="5.1" ry="11.1" fill="#d8708a" transform="rotate(279 1883.4 508.1)"/><ellipse cx="1889.6" cy="500.6" rx="4.8" ry="8.1" fill="#8ab858" transform="rotate(284 1889.6 500.6)"/><ellipse cx="1887.1" cy="493.6" rx="5.5" ry="11.0" fill="#6a8ad0" transform="rotate(304 1887.1 493.6)"/><ellipse cx="1891.0" cy="488.1" rx="5.3" ry="9.9" fill="#4a7a3a" transform="rotate(339 1891.0 488.1)"/><ellipse cx="1901.6" cy="485.6" rx="5.3" ry="10.4" fill="#6a8ad0" transform="rotate(329 1901.6 485.6)"/><ellipse cx="1905.4" cy="480.4" rx="3.8" ry="10.4" fill="#8ab858" transform="rotate(325 1905.4 480.4)"/><ellipse cx="1913.5" cy="482.2" rx="5.4" ry="8.1" fill="#6a8ad0" transform="rotate(360 1913.5 482.2)"/><ellipse cx="1920.2" cy="479.1" rx="4.3" ry="10.7" fill="#f0c060" transform="rotate(380 1920.2 479.1)"/><ellipse cx="1926.3" cy="485.7" rx="3.7" ry="8.4" fill="#6a8ad0" transform="rotate(357 1926.3 485.7)"/><ellipse cx="1930.6" cy="487.7" rx="4.8" ry="8.5" fill="#e8a03a" transform="rotate(392 1930.6 487.7)"/><ellipse cx="1936.9" cy="489.2" rx="4.7" ry="8.7" fill="#e0683a" transform="rotate(418 1936.9 489.2)"/><ellipse cx="1942.6" cy="492.6" rx="4.7" ry="10.0" fill="#5a9a48" transform="rotate(424 1942.6 492.6)"/><ellipse cx="1947.3" cy="497.4" rx="4.4" ry="8.3" fill="#3a8a7a" transform="rotate(436 1947.3 497.4)"/><ellipse cx="1948.7" cy="505.2" rx="5.4" ry="10.4" fill="#8ab858" transform="rotate(448 1948.7 505.2)"/><circle cx="1915.8" cy="513.8" r="24.3" fill="#efe8dc"/><ellipse cx="1902.8" cy="501.2" rx="3.4" ry="2.3" fill="#fffdf6" stroke="#c8bca8" stroke-width="0.5" transform="rotate(176 1902.8 501.2)"/><ellipse cx="1932.7" cy="507.4" rx="3.4" ry="2.3" fill="#fffdf6" stroke="#c8bca8" stroke-width="0.5" transform="rotate(135 1932.7 507.4)"/><ellipse cx="1929.9" cy="516.4" rx="3.4" ry="2.3" fill="#fffdf6" stroke="#c8bca8" stroke-width="0.5" transform="rotate(63 1929.9 516.4)"/><ellipse cx="1904.0" cy="497.8" rx="3.4" ry="2.3" fill="#fffdf6" stroke="#c8bca8" stroke-width="0.5" transform="rotate(28 1904.0 497.8)"/><ellipse cx="1902.2" cy="527.9" rx="3.4" ry="2.3" fill="#fffdf6" stroke="#c8bca8" stroke-width="0.5" transform="rotate(97 1902.2 527.9)"/><ellipse cx="1900.5" cy="509.5" rx="3.4" ry="2.3" fill="#fffdf6" stroke="#c8bca8" stroke-width="0.5" transform="rotate(3 1900.5 509.5)"/><ellipse cx="1914.2" cy="500.5" rx="3.4" ry="2.3" fill="#fffdf6" stroke="#c8bca8" stroke-width="0.5" transform="rotate(46 1914.2 500.5)"/><ellipse cx="1931.7" cy="504.6" rx="3.4" ry="2.3" fill="#fffdf6" stroke="#c8bca8" stroke-width="0.5" transform="rotate(40 1931.7 504.6)"/><ellipse cx="1916.2" cy="508.2" rx="3.4" ry="2.3" fill="#fffdf6" stroke="#c8bca8" stroke-width="0.5" transform="rotate(158 1916.2 508.2)"/><ellipse cx="1910.3" cy="508.8" rx="3.4" ry="2.3" fill="#fffdf6" stroke="#c8bca8" stroke-width="0.5" transform="rotate(0 1910.3 508.8)"/><ellipse cx="1917.3" cy="513.5" rx="3.4" ry="2.3" fill="#fffdf6" stroke="#c8bca8" stroke-width="0.5" transform="rotate(55 1917.3 513.5)"/><ellipse cx="1924.1" cy="511.7" rx="3.4" ry="2.3" fill="#fffdf6" stroke="#c8bca8" stroke-width="0.5" transform="rotate(42 1924.1 511.7)"/><ellipse cx="1910.8" cy="533.8" rx="3.4" ry="2.3" fill="#fffdf6" stroke="#c8bca8" stroke-width="0.5" transform="rotate(138 1910.8 533.8)"/><ellipse cx="1927.6" cy="502.1" rx="3.4" ry="2.3" fill="#fffdf6" stroke="#c8bca8" stroke-width="0.5" transform="rotate(46 1927.6 502.1)"/><ellipse cx="1932.1" cy="507.5" rx="3.4" ry="2.3" fill="#fffdf6" stroke="#c8bca8" stroke-width="0.5" transform="rotate(98 1932.1 507.5)"/><ellipse cx="1912.0" cy="525.8" rx="3.4" ry="2.3" fill="#fffdf6" stroke="#c8bca8" stroke-width="0.5" transform="rotate(42 1912.0 525.8)"/><ellipse cx="1925.7" cy="509.6" rx="3.4" ry="2.3" fill="#fffdf6" stroke="#c8bca8" stroke-width="0.5" transform="rotate(84 1925.7 509.6)"/><ellipse cx="1910.6" cy="529.3" rx="3.4" ry="2.3" fill="#fffdf6" stroke="#c8bca8" stroke-width="0.5" transform="rotate(0 1910.6 529.3)"/><ellipse cx="1901.2" cy="503.8" rx="3.4" ry="2.3" fill="#fffdf6" stroke="#c8bca8" stroke-width="0.5" transform="rotate(16 1901.2 503.8)"/><ellipse cx="1908.8" cy="531.5" rx="3.4" ry="2.3" fill="#fffdf6" stroke="#c8bca8" stroke-width="0.5" transform="rotate(123 1908.8 531.5)"/><ellipse cx="1912.8" cy="505.3" rx="3.4" ry="2.3" fill="#fffdf6" stroke="#c8bca8" stroke-width="0.5" transform="rotate(120 1912.8 505.3)"/><ellipse cx="1914.4" cy="509.0" rx="3.4" ry="2.3" fill="#fffdf6" stroke="#c8bca8" stroke-width="0.5" transform="rotate(5 1914.4 509.0)"/><ellipse cx="1927.7" cy="509.9" rx="3.4" ry="2.3" fill="#fffdf6" stroke="#c8bca8" stroke-width="0.5" transform="rotate(103 1927.7 509.9)"/><ellipse cx="1934.3" cy="515.9" rx="3.4" ry="2.3" fill="#fffdf6" stroke="#c8bca8" stroke-width="0.5" transform="rotate(93 1934.3 515.9)"/><ellipse cx="1902.1" cy="527.3" rx="3.4" ry="2.3" fill="#fffdf6" stroke="#c8bca8" stroke-width="0.5" transform="rotate(115 1902.1 527.3)"/><ellipse cx="1924.4" cy="516.4" rx="3.4" ry="2.3" fill="#fffdf6" stroke="#c8bca8" stroke-width="0.5" transform="rotate(50 1924.4 516.4)"/><ellipse cx="1923.4" cy="520.9" rx="3.4" ry="2.3" fill="#fffdf6" stroke="#c8bca8" stroke-width="0.5" transform="rotate(118 1923.4 520.9)"/><ellipse cx="1908.8" cy="524.2" rx="3.4" ry="2.3" fill="#fffdf6" stroke="#c8bca8" stroke-width="0.5" transform="rotate(134 1908.8 524.2)"/><ellipse cx="1915.7" cy="528.1" rx="3.4" ry="2.3" fill="#fffdf6" stroke="#c8bca8" stroke-width="0.5" transform="rotate(150 1915.7 528.1)"/><ellipse cx="1915.6" cy="495.1" rx="3.4" ry="2.3" fill="#fffdf6" stroke="#c8bca8" stroke-width="0.5" transform="rotate(75 1915.6 495.1)"/><ellipse cx="1935.7" cy="518.5" rx="3.4" ry="2.3" fill="#fffdf6" stroke="#c8bca8" stroke-width="0.5" transform="rotate(23 1935.7 518.5)"/><ellipse cx="1919.7" cy="528.3" rx="3.4" ry="2.3" fill="#fffdf6" stroke="#c8bca8" stroke-width="0.5" transform="rotate(92 1919.7 528.3)"/><ellipse cx="1926.5" cy="507.8" rx="3.4" ry="2.3" fill="#fffdf6" stroke="#c8bca8" stroke-width="0.5" transform="rotate(179 1926.5 507.8)"/><ellipse cx="1904.5" cy="510.5" rx="3.4" ry="2.3" fill="#fffdf6" stroke="#c8bca8" stroke-width="0.5" transform="rotate(81 1904.5 510.5)"/><ellipse cx="1909.3" cy="531.4" rx="3.4" ry="2.3" fill="#fffdf6" stroke="#c8bca8" stroke-width="0.5" transform="rotate(160 1909.3 531.4)"/><ellipse cx="1926.1" cy="527.8" rx="3.4" ry="2.3" fill="#fffdf6" stroke="#c8bca8" stroke-width="0.5" transform="rotate(123 1926.1 527.8)"/><ellipse cx="1918.2" cy="517.7" rx="3.4" ry="2.3" fill="#fffdf6" stroke="#c8bca8" stroke-width="0.5" transform="rotate(153 1918.2 517.7)"/><ellipse cx="1902.7" cy="511.0" rx="3.4" ry="2.3" fill="#fffdf6" stroke="#c8bca8" stroke-width="0.5" transform="rotate(60 1902.7 511.0)"/><ellipse cx="1915.1" cy="501.5" rx="3.4" ry="2.3" fill="#fffdf6" stroke="#c8bca8" stroke-width="0.5" transform="rotate(64 1915.1 501.5)"/><ellipse cx="1902.7" cy="517.6" rx="3.4" ry="2.3" fill="#fffdf6" stroke="#c8bca8" stroke-width="0.5" transform="rotate(14 1902.7 517.6)"/>
<polygon points="2714.9,1554.0 2714.9,1559.8 2715.0,1565.7 2713.6,1571.4 2712.6,1577.1 2711.3,1582.8 2709.1,1588.2 2707.6,1593.8 2705.6,1599.2 2703.3,1604.6 2699.6,1609.2 2696.9,1614.3 2693.3,1618.9 2690.6,1624.1 2686.7,1628.5 2682.0,1632.0 2678.7,1637.0 2674.3,1640.8 2669.4,1644.0 2664.5,1647.2 2659.3,1649.7 2654.1,1652.3 2649.2,1655.4 2643.6,1657.1 2638.2,1659.2 2632.6,1660.9 2626.9,1661.9 2621.4,1663.6 2615.6,1664.3 2609.8,1665.3 2604.0,1665.0 2598.2,1665.0 2592.4,1664.4 2586.6,1663.9 2580.9,1662.5 2575.4,1660.9 2569.5,1660.2 2564.0,1658.3 2558.7,1655.8 2553.5,1653.2 2548.6,1649.9 2543.8,1646.8 2538.9,1643.6 2534.5,1639.8 2529.5,1636.8 2525.6,1632.4 2521.2,1628.6 2517.9,1623.8 2513.7,1619.6 2510.5,1614.7 2508.5,1609.2 2505.5,1604.2 2502.1,1599.4 2500.4,1593.8 2497.8,1588.5 2496.9,1582.7 2496.0,1577.0 2494.2,1571.4 2493.2,1565.6 2493.5,1559.8 2493.6,1554.0 2493.4,1548.2 2493.0,1542.3 2494.0,1536.6 2495.9,1531.0 2497.1,1525.4 2499.0,1519.9 2500.9,1514.4 2502.2,1508.7 2505.5,1503.8 2507.8,1498.5 2511.0,1493.6 2514.5,1489.0 2517.5,1483.9 2521.9,1480.1 2525.4,1475.4 2530.1,1471.9 2534.2,1467.8 2539.0,1464.5 2543.7,1461.2 2548.2,1457.3 2553.4,1454.7 2559.0,1452.8 2564.0,1449.9 2569.8,1448.8 2575.3,1446.9 2580.8,1444.9 2586.6,1444.2 2592.5,1444.2 2598.2,1442.5 2604.0,1443.4 2609.8,1443.5 2615.6,1443.2 2621.3,1444.6 2627.0,1445.7 2632.6,1447.4 2638.1,1449.0 2643.8,1450.3 2649.0,1452.9 2654.5,1455.0 2659.4,1458.0 2664.4,1461.0 2669.6,1463.7 2673.8,1467.8 2678.3,1471.4 2682.9,1475.1 2686.2,1480.0 2689.9,1484.5 2694.3,1488.4 2697.5,1493.3 2699.8,1498.7 2702.5,1503.8 2705.7,1508.7 2708.2,1514.0 2709.2,1519.8 2711.8,1525.1 2713.1,1530.8 2713.8,1536.6 2714.3,1542.4 2714.3,1548.2" fill="#2f9c45"/><text x="2528" y="1532" font-size="52" textLength="141" lengthAdjust="spacingAndGlyphs" class="wfe" stroke="#fff" stroke-width="1.2" stroke-linejoin="round" transform="rotate(-4 2600 1515)">WHOLE</text><text x="2553" y="1576" font-size="46" textLength="93" lengthAdjust="spacingAndGlyphs" class="wfe" stroke="#fff" stroke-width="1.2" stroke-linejoin="round" transform="rotate(-2 2600 1560)">FOOD</text><text x="2540" y="1624" font-size="52" textLength="129" lengthAdjust="spacingAndGlyphs" class="wfe" stroke="#fff" stroke-width="1.2" stroke-linejoin="round" transform="rotate(-3 2600 1605)">EARTH</text><circle cx="2679" cy="1620.5" r="5.5" fill="none" stroke="#fff" stroke-width="1.3"/><text x="2679" y="1623.5" font-size="7" text-anchor="middle" class="wl">R</text><path d="M2600,1665 Q2570,1680 2535,1668 Q2505,1655 2506,1635 Q2510,1618 2530,1622 Q2545,1632 2540,1648 Q2530,1660 2510,1660" fill="none" stroke="#4a3020" stroke-width="2.6" stroke-dasharray="5 5"/><path d="M2462,1630 Q2480,1655 2505,1660" fill="none" stroke="#c8b8a8" stroke-width="1.5" stroke-dasharray="4 5"/><ellipse cx="2606" cy="1648" rx="7" ry="5.5" fill="none" stroke="#222" stroke-width="1.3" transform="rotate(30 2606 1648)"/><ellipse cx="2628" cy="1664" rx="6" ry="4.5" fill="none" stroke="#222" stroke-width="1.3" transform="rotate(30 2628 1664)"/><ellipse cx="2616" cy="1656" rx="10.5" ry="8.5" fill="#f2d22a" stroke="#222" stroke-width="1.3" transform="rotate(-35 2616 1656)"/><path d="M2609,1652 L2616,1664 M2614,1649 L2621,1661 M2619,1647 L2625,1657" stroke="#222" stroke-width="1.4"/>
</svg></body></html>
